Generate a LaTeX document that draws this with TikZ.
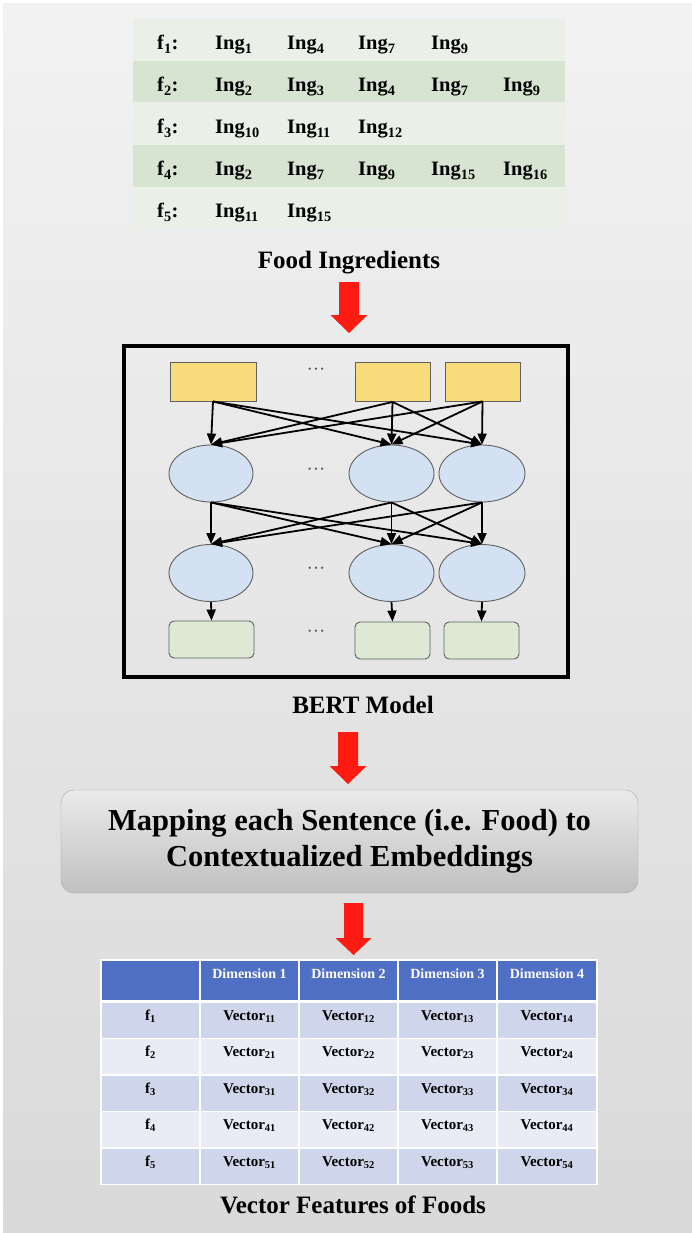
\documentclass[tikz,border=0pt]{standalone}
\usepackage{fontspec}
\setmainfont{Liberation Serif}
\usepackage{xcolor}
\usetikzlibrary{arrows.meta,shapes.geometric}
\definecolor{bgtop}{HTML}{F2F2F2}
\definecolor{bgbot}{HTML}{D9D9D9}
\definecolor{rowlight}{HTML}{EAF0E8}
\definecolor{rowdark}{HTML}{D8E4D2}
\definecolor{tokenfill}{HTML}{F8DC7B}
\definecolor{hiddenfill}{HTML}{D4E1F3}
\definecolor{outfill}{HTML}{DDE8D5}
\definecolor{nodeline}{HTML}{606060}
\definecolor{dotgray}{HTML}{595959}
\definecolor{arrowred}{HTML}{FF1A12}
\definecolor{maptop}{HTML}{EAEAEA}
\definecolor{mapbot}{HTML}{C0C0C0}
\definecolor{mapline}{HTML}{A6A6A6}
\definecolor{hdblue}{HTML}{4F6FC4}
\definecolor{rowodd}{HTML}{CFD5EA}
\definecolor{roweven}{HTML}{E9EBF5}
\begin{document}
\begin{tikzpicture}[x=1pt,y=-1pt,
  every node/.style={inner sep=0pt},
  ingtxt/.style={font=\fontsize{20.5}{24}\selectfont\bfseries,anchor=base west},
  lbltxt/.style={font=\fontsize{25}{30}\selectfont\bfseries,anchor=base},
  hdtxt/.style={font=\fontsize{14}{17}\selectfont\bfseries,text=white,anchor=base},
  celltxt/.style={font=\fontsize{15}{18}\selectfont\bfseries,anchor=base},
  token/.style={draw=nodeline,line width=0.9pt,fill=tokenfill,minimum height=39pt},
  hidden/.style={ellipse,draw=nodeline,line width=0.9pt,fill=hiddenfill,minimum height=57pt},
  outbox/.style={draw=nodeline,line width=0.9pt,fill=outfill,rounded corners=5pt,minimum height=37pt},
  link/.style={-{Triangle[length=11pt,width=9pt]},line width=1.8pt},
  dots/.style={font=\fontsize{19}{20}\selectfont,text=dotgray},
  bigarrow/.style={fill=arrowred},
  mapbox/.style={draw=mapline,top color=maptop,bottom color=mapbot,rounded corners=13pt,
    minimum width=577pt,minimum height=103pt,align=center,
    font=\fontsize{30.5}{36}\selectfont\bfseries}]
\useasboundingbox (0,0) rectangle (692,1233);
\fill [white] (0,0) rectangle (692,1233);
\shade [top color=bgtop,bottom color=bgbot] (3,4) rectangle (692,1233);
\fill [rowlight] (133,19) rectangle (565,61);
\fill [rowdark] (133,61) rectangle (565,102);
\fill [rowlight] (133,102) rectangle (565,145);
\fill [rowdark] (133,145) rectangle (565,187);
\fill [rowlight] (133,187) rectangle (565,229);
\node [ingtxt] (f1) at (157,50) {f\textsubscript{1}:};
\node [ingtxt] (i11) at (215,50) {Ing\textsubscript{1}};
\node [ingtxt] (i12) at (287,50) {Ing\textsubscript{4}};
\node [ingtxt] (i13) at (358,50) {Ing\textsubscript{7}};
\node [ingtxt] (i14) at (431,50) {Ing\textsubscript{9}};
\node [ingtxt] (f2) at (157,92) {f\textsubscript{2}:};
\node [ingtxt] (i21) at (215,92) {Ing\textsubscript{2}};
\node [ingtxt] (i22) at (287,92) {Ing\textsubscript{3}};
\node [ingtxt] (i23) at (358,92) {Ing\textsubscript{4}};
\node [ingtxt] (i24) at (431,92) {Ing\textsubscript{7}};
\node [ingtxt] (i25) at (503,92) {Ing\textsubscript{9}};
\node [ingtxt] (f3) at (157,134) {f\textsubscript{3}:};
\node [ingtxt] (i31) at (215,134) {Ing\textsubscript{10}};
\node [ingtxt] (i32) at (287,134) {Ing\textsubscript{11}};
\node [ingtxt] (i33) at (358,134) {Ing\textsubscript{12}};
\node [ingtxt] (f4) at (157,176) {f\textsubscript{4}:};
\node [ingtxt] (i41) at (215,176) {Ing\textsubscript{2}};
\node [ingtxt] (i42) at (287,176) {Ing\textsubscript{7}};
\node [ingtxt] (i43) at (358,176) {Ing\textsubscript{9}};
\node [ingtxt] (i44) at (431,176) {Ing\textsubscript{15}};
\node [ingtxt] (i45) at (503,176) {Ing\textsubscript{16}};
\node [ingtxt] (f5) at (157,218) {f\textsubscript{5}:};
\node [ingtxt] (i51) at (215,218) {Ing\textsubscript{11}};
\node [ingtxt] (i52) at (287,218) {Ing\textsubscript{15}};
\node [lbltxt] (foodlbl) at (349,268) {Food Ingredients};
\fill [bigarrow] (339,282) -- (359,282) -- (359,315) -- (367.5,315) -- (349,333) -- (330.5,315) -- (339,315) -- cycle;
\draw [line width=3.5pt] (124,346) rectangle (568,677);
\node [token,minimum width=86pt] (t1) at (213,381.5) {};
\node [token,minimum width=75pt] (t2) at (392.5,382) {};
\node [token,minimum width=75pt] (t3) at (482.5,381.5) {};
\node [hidden,minimum width=84pt] (e11) at (211,473.5) {};
\node [hidden,minimum width=85pt] (e12) at (391.5,473.5) {};
\node [hidden,minimum width=86pt] (e13) at (482,473.5) {};
\node [hidden,minimum width=84pt] (e21) at (211,573) {};
\node [hidden,minimum width=85pt] (e22) at (391.5,573) {};
\node [hidden,minimum width=86pt] (e23) at (482,573) {};
\node [outbox,minimum width=85pt] (g1) at (211.5,639.5) {};
\node [outbox,minimum width=75pt] (g2) at (392.5,640.5) {};
\node [outbox,minimum width=75pt] (g3) at (481.5,640.5) {};
\node [dots] (dt) at (316,372) {···};
\node [dots] (de1) at (316,472) {···};
\node [dots] (de2) at (316,571) {···};
\node [dots] (dg) at (316,634) {···};
\draw [link] (t1.south) -- (e11.north);
\draw [link] (t1.south) -- (e12.north);
\draw [link] (t1.south) -- (e13.north);
\draw [link] (t2.south) -- (e11.north);
\draw [link] (t2.south) -- (e12.north);
\draw [link] (t2.south) -- (e13.north);
\draw [link] (t3.south) -- (e11.north);
\draw [link] (t3.south) -- (e12.north);
\draw [link] (t3.south) -- (e13.north);
\draw [link] (e11.south) -- (e21.north);
\draw [link] (e11.south) -- (e22.north);
\draw [link] (e11.south) -- (e23.north);
\draw [link] (e12.south) -- (e21.north);
\draw [link] (e12.south) -- (e22.north);
\draw [link] (e12.south) -- (e23.north);
\draw [link] (e13.south) -- (e21.north);
\draw [link] (e13.south) -- (e22.north);
\draw [link] (e13.south) -- (e23.north);
\draw [link] (e21.south) -- (g1.north);
\draw [link] (e22.south) -- (g2.north);
\draw [link] (e23.south) -- (g3.north);
\node [lbltxt] (bertlbl) at (363,713) {BERT Model};
\fill [bigarrow] (338,732) -- (358,732) -- (358,766) -- (366.5,766) -- (348,784) -- (329.5,766) -- (338,766) -- cycle;
\node [mapbox] (map) at (349.5,841.5) {Mapping each Sentence (i.e. Food) to\\Contextualized Embeddings};
\fill [bigarrow] (344,903) -- (363,903) -- (363,938) -- (371.5,938) -- (353.5,955) -- (335.5,938) -- (344,938) -- cycle;
\fill [hdblue] (101,960) rectangle (597,1001);
\fill [rowodd] (101,1001) rectangle (597,1038.5);
\fill [roweven] (101,1038.5) rectangle (597,1075);
\fill [rowodd] (101,1075) rectangle (597,1111.5);
\fill [roweven] (101,1111.5) rectangle (597,1148);
\fill [rowodd] (101,1148) rectangle (597,1184.5);
\draw [white,line width=1.5pt] (101,960) rectangle (597,1184.5);
\draw [white,line width=3pt] (101,1001.5) -- (597,1001.5);
\draw [white,line width=1.5pt] (101,1038.5) -- (597,1038.5);
\draw [white,line width=1.5pt] (101,1075) -- (597,1075);
\draw [white,line width=1.5pt] (101,1111.5) -- (597,1111.5);
\draw [white,line width=1.5pt] (101,1148) -- (597,1148);
\draw [white,line width=1.5pt] (200,960) -- (200,1184.5);
\draw [white,line width=1.5pt] (299,960) -- (299,1184.5);
\draw [white,line width=1.5pt] (398,960) -- (398,1184.5);
\draw [white,line width=1.5pt] (497,960) -- (497,1184.5);
\node [hdtxt] (d1) at (249.5,978) {Dimension 1};
\node [hdtxt] (d2) at (348.5,978) {Dimension 2};
\node [hdtxt] (d3) at (447.5,978) {Dimension 3};
\node [hdtxt] (d4) at (547,978) {Dimension 4};
\node [celltxt] (r1) at (150.5,1020) {f\textsubscript{1}};
\node [celltxt] (v11) at (249.5,1020) {Vector\textsubscript{11}};
\node [celltxt] (v12) at (348.5,1020) {Vector\textsubscript{12}};
\node [celltxt] (v13) at (447.5,1020) {Vector\textsubscript{13}};
\node [celltxt] (v14) at (547,1020) {Vector\textsubscript{14}};
\node [celltxt] (r2) at (150.5,1056.5) {f\textsubscript{2}};
\node [celltxt] (v21) at (249.5,1056.5) {Vector\textsubscript{21}};
\node [celltxt] (v22) at (348.5,1056.5) {Vector\textsubscript{22}};
\node [celltxt] (v23) at (447.5,1056.5) {Vector\textsubscript{23}};
\node [celltxt] (v24) at (547,1056.5) {Vector\textsubscript{24}};
\node [celltxt] (r3) at (150.5,1093) {f\textsubscript{3}};
\node [celltxt] (v31) at (249.5,1093) {Vector\textsubscript{31}};
\node [celltxt] (v32) at (348.5,1093) {Vector\textsubscript{32}};
\node [celltxt] (v33) at (447.5,1093) {Vector\textsubscript{33}};
\node [celltxt] (v34) at (547,1093) {Vector\textsubscript{34}};
\node [celltxt] (r4) at (150.5,1129.5) {f\textsubscript{4}};
\node [celltxt] (v41) at (249.5,1129.5) {Vector\textsubscript{41}};
\node [celltxt] (v42) at (348.5,1129.5) {Vector\textsubscript{42}};
\node [celltxt] (v43) at (447.5,1129.5) {Vector\textsubscript{43}};
\node [celltxt] (v44) at (547,1129.5) {Vector\textsubscript{44}};
\node [celltxt] (r5) at (150.5,1166) {f\textsubscript{5}};
\node [celltxt] (v51) at (249.5,1166) {Vector\textsubscript{51}};
\node [celltxt] (v52) at (348.5,1166) {Vector\textsubscript{52}};
\node [celltxt] (v53) at (447.5,1166) {Vector\textsubscript{53}};
\node [celltxt] (v54) at (547,1166) {Vector\textsubscript{54}};
\node [lbltxt] (veclbl) at (353,1213) {Vector Features of Foods};
\end{tikzpicture}
\end{document}
